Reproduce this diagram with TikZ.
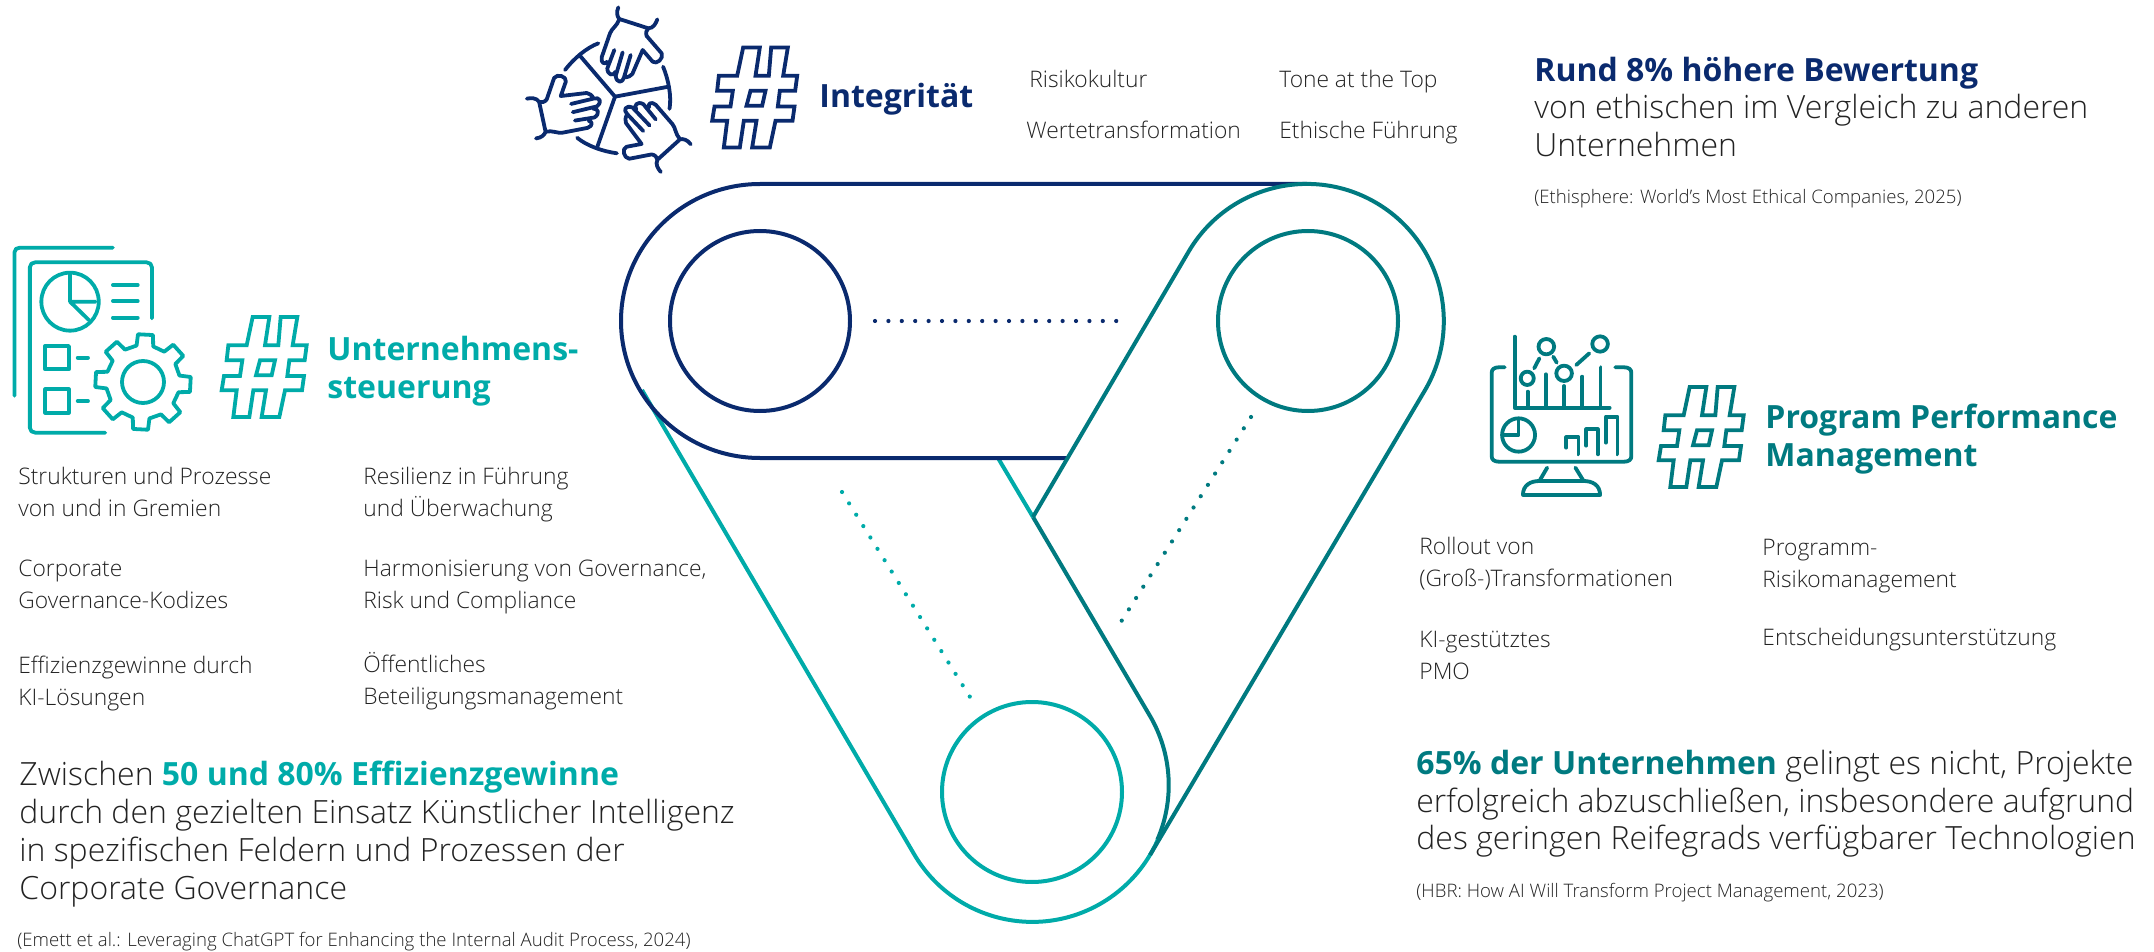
\documentclass[tikz,border=0pt]{standalone}
\usepackage{fontspec}
\setmainfont{Open Sans}[UprightFont=* Light, BoldFont=* Bold]
\usetikzlibrary{positioning}
\definecolor{navyint}{HTML}{0A2A6E}
\definecolor{tealst}{HTML}{00ABA9}
\definecolor{tealpm}{HTML}{007A80}
\definecolor{bodygrey}{HTML}{222222}
\tikzstyle{ring} =
[circle, minimum size = 90pt, inner sep = 0pt, outer sep = 0pt, line width = 2pt]
\tikzstyle{band} = [line width = 2pt]
\tikzstyle{icon} = [line width = 1.9pt, line cap = round, line join = round]
\tikzstyle{dots} =
[line width = 2.1pt, line cap = round, dash pattern = on 0pt off 6.7pt]
\tikzstyle{bodytext} =
[anchor = west, align = left, inner sep = 0pt, text = bodygrey,
font = \fontsize{11.4}{16}\selectfont]
\tikzstyle{bigtext} =
[anchor = west, align = left, inner sep = 0pt, text = bodygrey,
font = \fontsize{16}{18.7}\selectfont]
\tikzstyle{sourcetext} =
[anchor = west, align = left, inner sep = 0pt, text = bodygrey,
font = \fontsize{9.3}{11}\selectfont]
\tikzstyle{title} =
[anchor = west, align = left, inner sep = 0pt,
font = \fontsize{16}{19}\selectfont\bfseries]
\tikzset{hash/.pic = {
  % traced from the middle of the sign
  \draw [pic actions, line width = 1.9pt, line join = miter, xscale = 1/3, yscale = 1/3]
    (-34,150) -- (16,150) -- (3,65) -- (43,65) -- (50,150) -- (100,150)
    -- (86,65) -- (128,65) -- (122,20) -- (76,20) -- (70,-27) -- (120,-27)
    -- (114,-70) -- (63,-70) -- (46,-150) -- (-7,-150) -- (6,-70) -- (-32,-70)
    -- (-44,-150) -- (-92,-150) -- (-82,-70) -- (-127,-70) -- (-120,-27)
    -- (-72,-27) -- (-65,20) -- (-112,20) -- (-107,65) -- (-52,65) -- cycle
    (-12,20) -- (33,20) -- (23,-25) -- (-24,-25) -- cycle;
}}
\newcommand{\handicon}[1]{
  \draw [rotate around={#1:(345,-290)}]
    (355,-22) .. controls (348,-38) and (352,-50) .. (358,-57) -- (445,-85)
    .. controls (460,-85) and (468,-70) .. (472,-58);
  \draw [rotate around={#1:(345,-290)}]
    (358,-57) .. controls (352,-78) and (335,-85) .. (330,-100) -- (305,-172)
    .. controls (302,-190) and (315,-195) .. (322,-185)
    (343,-150) -- (322,-205)
    .. controls (322,-225) and (340,-230) .. (347,-215)
    (368,-157) -- (347,-228)
    .. controls (350,-250) and (368,-250) .. (372,-232)
    (392,-165) -- (372,-232)
    .. controls (385,-232) and (392,-228) .. (397,-222) -- (428,-150)
    -- (458,-185) .. controls (470,-195) and (492,-175) .. (485,-160)
    -- (440,-108) .. controls (436,-98) and (440,-90) .. (445,-85);
  \draw [rotate around={#1:(345,-290)}] (345,-290) -- (238,-165);
  \draw [rotate around={#1:(345,-290)}] (295,-130)
    .. controls (260,-143) and (222,-175) .. (195,-210);
}

\begin{document}
\begin{tikzpicture}[x = 0.5pt, y = 0.5pt]
  \useasboundingbox (0,0) rectangle (2154,-952);
  % rings
  \node [ring, draw=navyint] (ringint) at (760,-321) {};
  \node [ring, draw=tealpm] (ringpm) at (1308,-321) {};
  \node [ring, draw=tealst] (ringst) at (1032,-792) {};
  % bands, navy one first, the light one over the dark one at the bottom
  \coordinate (navytop) at (1307,-184);
  \coordinate (navyend) at (1067,-458);
  \coordinate (pmjoin) at (1033,-517);
  \coordinate (stjoin) at (998,-458);
  \draw [band, tealpm] (pmjoin) -- (1150,-716)
    arc [start angle=30.3, end angle=-23.6, radius=137];
  \draw [band, tealst] (642,-390) -- (914,-854)
    arc [start angle=210.3, end angle=336.4, radius=137];
  \draw [band, tealst] (stjoin) -- (pmjoin);
  \draw [band, navyint] (navytop) -- (760,-184)
    arc [start angle=90, end angle=270, x radius=139, y radius=137] -- (navyend);
  \draw [band, tealpm] (pmjoin) -- (1189,-251)
    arc [start angle=149.3, end angle=-30.7, radius=137] -- (1150,-855);
  % dotted links
  \coordinate (dotinta) at (875,-321);
  \coordinate (dotintb) at (1117,-321);
  \coordinate (dotpma) at (1251,-417);
  \coordinate (dotpmb) at (1121.5,-621);
  \coordinate (dotsta) at (842,-492);
  \coordinate (dotstb) at (970,-697);
  \draw [dots, navyint] (dotinta) -- (dotintb);
  \draw [dots, tealpm] (dotpma) -- (dotpmb);
  \draw [dots, tealst] (dotsta) -- (dotstb);
  % hash signs
  \pic [draw=navyint] at (754.5,-97.5) {hash};
  \pic [draw=tealst] at (264,-367) {hash};
  \pic [draw=tealpm] at (1701,-437) {hash};
  % hands icon
  \begin{scope}[shift={(500,0)}, scale=1/3, icon, navyint]
    \handicon{0}
    \handicon{120}
    \handicon{240}
  \end{scope}
  % report icon
  \begin{scope}[shift={(0,-230)}, xscale=1/2.613, yscale=1/3, icon, tealst]
    \draw (295,-53) -- (52,-53) .. controls (44,-53) and (38,-58) .. (38,-66) -- (38,-497);
    \draw (397,-265) -- (397,-112) .. controls (397,-103) and (391,-97) .. (383,-97)
      -- (92,-97) .. controls (84,-97) and (78,-103) .. (78,-112) -- (78,-593)
      .. controls (78,-602) and (84,-608) .. (92,-608) -- (275,-608);
    \draw (183,-215) ellipse [x radius=75, y radius=87];
    \draw (183,-130) -- (183,-215) -- (250,-215) (183,-215) -- (232,-270);
    \draw (295,-165) -- (360,-165) (295,-213) -- (360,-213) (295,-263) -- (360,-263);
    \draw (118,-348) rectangle (180,-418) (118,-478) rectangle (180,-548);
    \draw (203,-383) -- (230,-383) (203,-513) -- (230,-513);
  \end{scope}
  \begin{scope}[shift={(143,-382)}, icon, tealst]
    \draw (0,0) circle [radius=21];
    \draw (-16:37) \foreach \a in {-3,42,...,312} {
      -- (\a-13:37) -- (\a-9:48) -- (\a+9:48) -- (\a+13:37)} -- cycle;
  \end{scope}
  % monitor icon
  \begin{scope}[shift={(1470,-320)}, xscale=1/2.306, yscale=1/3, icon, tealpm]
    \draw (80,-142) -- (66,-142) .. controls (56,-142) and (50,-148) .. (50,-158)
      -- (50,-409) .. controls (50,-419) and (56,-425) .. (66,-425) -- (356,-425)
      .. controls (366,-425) and (372,-419) .. (372,-409) -- (372,-158)
      .. controls (372,-148) and (366,-142) .. (356,-142) -- (335,-142);
    \draw (178,-443) -- (160,-483) (243,-443) -- (262,-483);
    \draw (122,-525) .. controls (122,-495) and (140,-483) .. (160,-483) -- (262,-483)
      .. controls (282,-483) and (300,-495) .. (300,-525) -- cycle;
    \draw (103,-50) -- (103,-263) -- (322,-263);
    \draw (133,-215) -- (133,-263) (175,-163) -- (175,-263) (217,-198) -- (217,-263)
      (259,-170) -- (259,-263) (301,-142) -- (301,-263);
    \draw (132,-175) ellipse [x radius=15, y radius=20];
    \draw (176,-80) ellipse [x radius=18, y radius=23];
    \draw (217,-160) ellipse [x radius=18, y radius=23];
    \draw (300,-72) ellipse [x radius=18, y radius=23];
    \draw (148,-145) -- (160,-115) (192,-110) -- (200,-128) (245,-135) -- (275,-100);
    \draw (112,-345) ellipse [x radius=38, y radius=50];
    \draw (112,-298) -- (112,-345) -- (75,-345);
    \draw (222,-383) -- (222,-352) -- (250,-352) -- (250,-403);
    \draw (268,-377) -- (268,-328) -- (295,-328) -- (295,-403);
    \draw (313,-368) -- (313,-290) -- (340,-290) -- (340,-403);
  \end{scope}
  % titles
  \node [title, text=navyint] (titleint) at (819,-99) {Integrität};
  \node [title, text=tealst] (titlest) at (327,-371) {Unternehmens-\\steuerung};
  \node [title, text=tealpm] (titlepm) at (1765,-439) {Program Performance\\Management};
  % Integrität, text
  \node [bodytext] (intrisk) at (1029,-81) {\strut Risikokultur};
  \node [bodytext] (inttone) at (1279,-81) {\strut Tone at the Top};
  \node [bodytext] (intwert) at (1026,-132) {\strut Wertetransformation};
  \node [bodytext] (intethik) at (1279,-132) {\strut Ethische Führung};
  \node [bigtext] (intbig) at (1534,-107) {\textbf{\color{navyint}Rund 8\% höhere Bewertung}\\
    von ethischen im Vergleich zu anderen\\Unternehmen};
  \node [sourcetext] (intsrc) at (1534,-199) {(Ethisphere: World’s Most Ethical Companies, 2025)};
  % Unternehmenssteuerung, text
  \node [bodytext] (stgrem) at (18,-492) {Strukturen und Prozesse\\von und in Gremien};
  \node [bodytext] (stkodex) at (18,-584) {Corporate\\Governance-Kodizes};
  \node [bodytext] (stki) at (18,-683.5) {Effizienzgewinne durch\\KI-Lösungen};
  \node [bodytext] (stres) at (363,-494.5) {Resilienz in Führung\\und Überwachung};
  \node [bodytext] (stgrc) at (363,-587) {Harmonisierung von Governance,\\Risk und Compliance};
  \node [bodytext] (stbet) at (363,-681) {Öffentliches\\Beteiligungsmanagement};
  \node [bigtext, font=\fontsize{16}{19}\selectfont] (stbig) at (19,-834) {Zwischen \textbf{\color{tealst}50 und 80\% Effizienzgewinne}\\
    durch den gezielten Einsatz Künstlicher Intelligenz\\
    in spezifischen Feldern und Prozessen der\\Corporate Governance};
  \node [sourcetext] (stsrc) at (17,-942) {(Emett et al.: Leveraging ChatGPT for Enhancing the Internal Audit Process, 2024)};
  % Program Performance Management, text
  \node [bodytext] (pmroll) at (1419,-564) {Rollout von\\(Groß-)Transformationen};
  \node [bodytext] (pmpmo) at (1419,-655) {KI-gestütztes\\PMO};
  \node [bodytext] (pmrisk) at (1762,-566) {Programm-\\Risikomanagement};
  \node [bodytext] (pmdec) at (1762,-639) {\strut Entscheidungsunterstützung};
  \node [bigtext] (pmbig) at (1416,-804) {\textbf{\color{tealpm}65\% der Unternehmen} gelingt es nicht, Projekte\\
    erfolgreich abzuschließen, insbesondere aufgrund\\
    des geringen Reifegrads verfügbarer Technologien};
  \node [sourcetext] (pmsrc) at (1416,-893) {(HBR: How AI Will Transform Project Management, 2023)};
\end{tikzpicture}
\end{document}
